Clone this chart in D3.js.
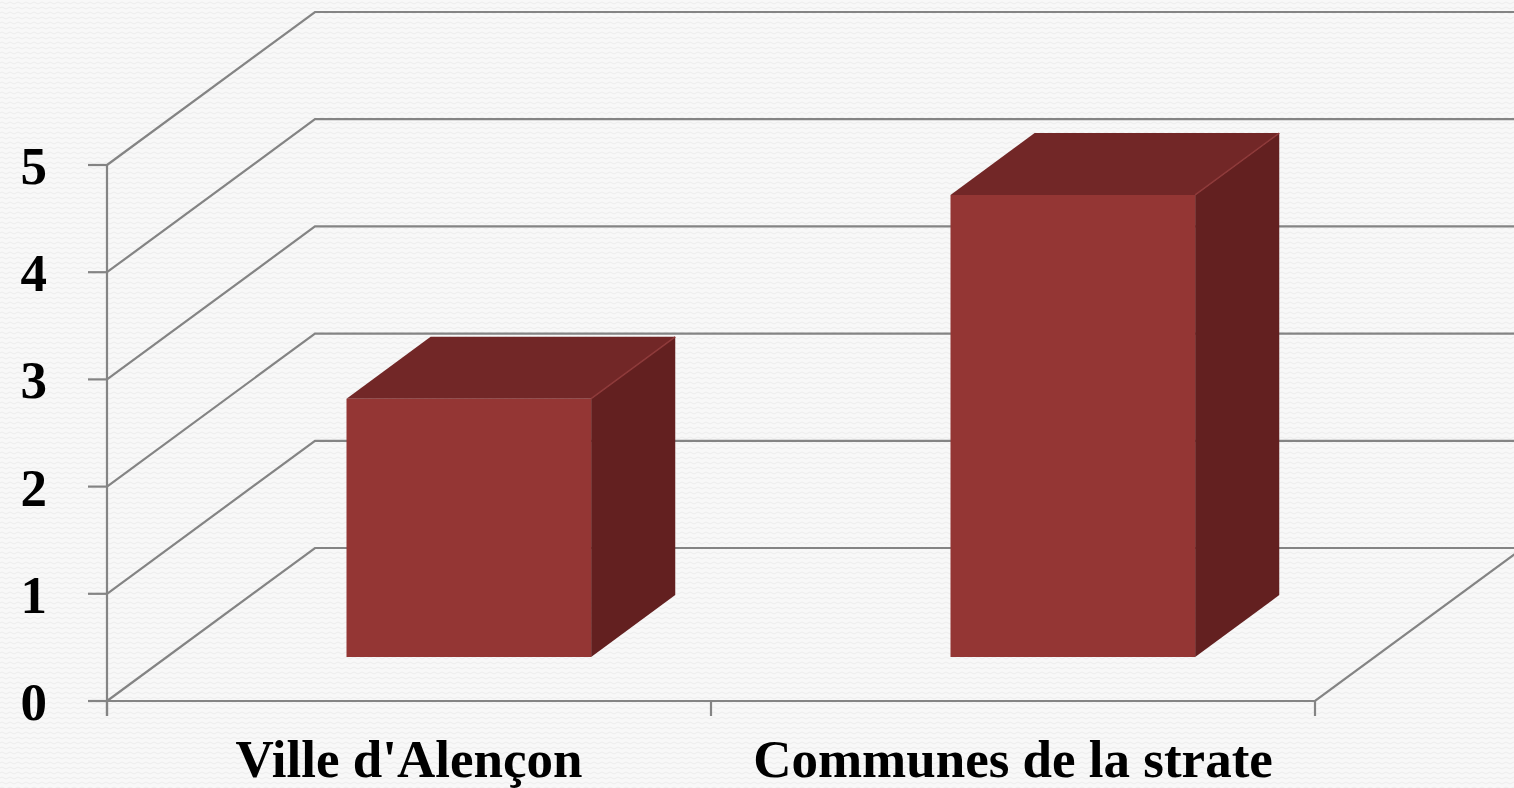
<!DOCTYPE html>
<html>
<head>
<meta charset="utf-8">
<script src="https://cdn.jsdelivr.net/npm/d3@7"></script>
<style>
  html, body { margin: 0; padding: 0; background: #f7f7f7; overflow: hidden; }
  svg { display: block; }
</style>
</head>
<body>
<svg id="chart" width="1514" height="788"></svg>
<script>
// ---- data ----
const categories = ["Ville d'Alençon", "Communes de la strate"];
const values = [2.41, 4.31];
const tickValues = [0, 1, 2, 3, 4, 5];
const tickLabels = ["0", "1", "2", "3", "4", "5"];

// ---- layout ----
const W = 1514, H = 788;
const svg = d3.select("#chart");

const defs = svg.append("defs");
const pat = defs.append("pattern").attr("id", "bgpat")
  .attr("width", 8).attr("height", 5).attr("patternUnits", "userSpaceOnUse");
pat.append("rect").attr("width", 8).attr("height", 5).attr("fill", "#f8f8f8");
pat.append("path").attr("d", "M0 3 Q2 1 4 3 T8 3").attr("fill", "none")
  .attr("stroke", "#ececec").attr("stroke-width", 1);
svg.append("rect").attr("width", W).attr("height", H).attr("fill", "url(#bgpat)");

const x0 = 107, x1 = 1315;
const y = d3.scaleLinear().domain([0, 5]).range([701, 165]);
const x = d3.scaleBand().domain(categories).range([x0, x1]).paddingInner(0).paddingOuter(0);
const depthX = 208, depthY = -153;
// project front-plane coord at depth fraction f
const P = (px, v, f) => [px + depthX * f, y(v) + depthY * f];

const gridColor = "#848484";
const sw = 2.2;
const g = svg.append("g");

// gridlines: front axis -> back wall -> right
tickValues.forEach(t => {
  const a = P(x0, t, 0), b = P(x0, t, 1), c = [W + 20, b[1]];
  g.append("polyline")
    .attr("points", [a, b, c].map(p => p.join(",")).join(" "))
    .attr("fill", "none").attr("stroke", gridColor).attr("stroke-width", sw);
});

// floor front line and right diagonal
g.append("polyline")
  .attr("points", [P(x0, 0, 0), P(x1, 0, 0), P(x1, 0, 1)].map(p => p.join(",")).join(" "))
  .attr("fill", "none").attr("stroke", gridColor).attr("stroke-width", sw);

// y axis line
g.append("line").attr("x1", x0).attr("x2", x0).attr("y1", y(5)).attr("y2", y(0) + 15)
  .attr("stroke", gridColor).attr("stroke-width", sw);
// y ticks
tickValues.forEach(t => {
  g.append("line").attr("x1", x0 - 19).attr("x2", x0).attr("y1", y(t)).attr("y2", y(t))
    .attr("stroke", gridColor).attr("stroke-width", sw);
});
// x ticks
[x0, x0 + x.bandwidth(), x1].forEach(px => {
  g.append("line").attr("x1", px).attr("x2", px).attr("y1", y(0)).attr("y2", y(0) + 15)
    .attr("stroke", gridColor).attr("stroke-width", sw);
});

// y tick labels
svg.append("g").selectAll("text").data(tickValues).join("text")
  .attr("x", 47).attr("y", t => y(t) + 19)
  .attr("text-anchor", "end")
  .attr("font-family", "'Liberation Serif', 'DejaVu Serif', serif")
  .attr("font-weight", "bold").attr("font-size", 53).attr("fill", "#000")
  .text((t, i) => tickLabels[i]);

// category labels
svg.append("g").selectAll("text").data(categories).join("text")
  .attr("x", d => x(d) + x.bandwidth() / 2).attr("y", 777)
  .attr("text-anchor", "middle")
  .attr("font-family", "'Liberation Serif', 'DejaVu Serif', serif")
  .attr("font-weight", "bold").attr("font-size", 53).attr("fill", "#000")
  .text(d => d);

// bars
const fFront = 0.2876, fBack = 0.692;
const barFrac = 0.405;
const bars = svg.append("g");
categories.forEach((c, i) => {
  const v = values[i];
  const cx = x(c) + x.bandwidth() / 2;
  const w = x.bandwidth() * barFrac;
  const L = cx - w / 2, R = cx + w / 2;
  const poly = pts => pts.map(p => p.join(",")).join(" ");
  // side face
  bars.append("polygon")
    .attr("points", poly([P(R, 0, fFront), P(R, v, fFront), P(R, v, fBack), P(R, 0, fBack)]))
    .attr("fill", "#632020");
  // top face
  bars.append("polygon")
    .attr("points", poly([P(L, v, fFront), P(R, v, fFront), P(R, v, fBack), P(L, v, fBack)]))
    .attr("fill", "#722727");
  // front face
  bars.append("polygon")
    .attr("points", poly([P(L, 0, fFront), P(R, 0, fFront), P(R, v, fFront), P(L, v, fFront)]))
    .attr("fill", "#943634");
  // highlight edge between top and side
  const e1 = P(R, v, fFront), e2 = P(R, v, fBack);
  bars.append("line").attr("x1", e1[0]).attr("y1", e1[1]).attr("x2", e2[0]).attr("y2", e2[1])
    .attr("stroke", "#8e3a3a").attr("stroke-width", 1.5);
});
</script>
</body>
</html>
